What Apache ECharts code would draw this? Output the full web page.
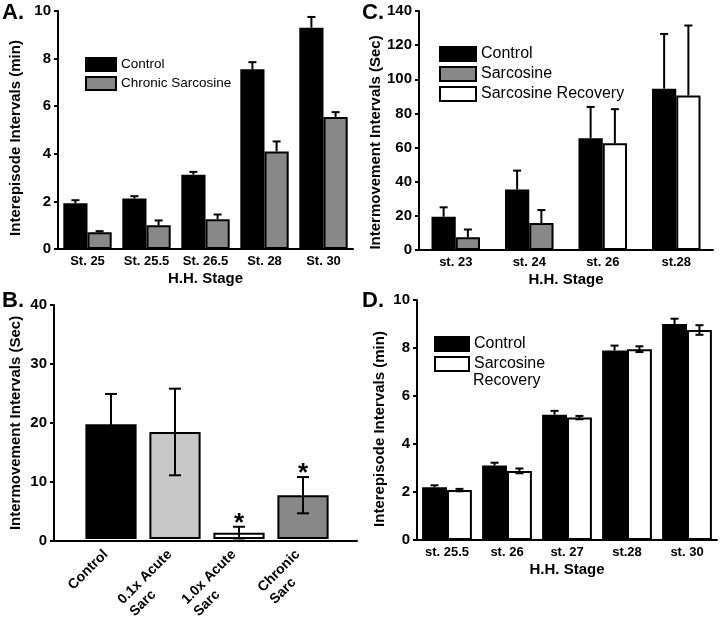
<!DOCTYPE html>
<html><head><meta charset="utf-8">
<script src="https://cdn.jsdelivr.net/npm/echarts@6/dist/echarts.min.js"></script>
<style>html,body{margin:0;padding:0;background:#fff}#c{width:720px;height:621px}</style>
</head><body><div id="c"></div>
<script>
// ---- Panel A ----
const aStages = ['St. 25', 'St. 25.5', 'St. 26.5', 'St. 28', 'St. 30'];
const aControl = [1.92, 2.12, 3.12, 7.55, 9.3];
const aControlErr = [0.13, 0.1, 0.12, 0.3, 0.45];
const aSarc = [0.7, 1.0, 1.25, 4.1, 5.55];
const aSarcErr = [0.05, 0.2, 0.2, 0.42, 0.2];

// ---- Panel B ----
const bGroups = ['Control', '0.1x Acute\nSarc', '1.0x Acute\nSarc', 'Chronic\nSarc'];
const bValues = [19.6, 18.3, 1.1, 7.5];
const bErr = [5.2, 7.4, 1.0, 3.1];
const bSig = ['', '', '*', '*'];

// ---- Panel C ----
const cStages = ['st. 23', 'st. 24', 'st. 26', 'st.28'];
const cControl = [19.5, 35.5, 65.5, 94.5];
const cControlErr = [5.5, 11, 18.3, 32];
const cSarc = [7.5, 15.8, null, null];
const cSarcErr = [4.5, 7.6, null, null];
const cRecovery = [null, null, 62.5, 90.5];
const cRecoveryErr = [null, null, 20, 41];

// ---- Panel D ----
const dStages = ['st. 25.5', 'st. 26', 'st. 27', 'st.28', 'st. 30'];
const dControl = [2.2, 3.1, 5.22, 7.9, 9.0];
const dControlErr = [0.08, 0.12, 0.16, 0.2, 0.22];
const dRecovery = [2.08, 2.88, 5.1, 7.95, 8.75];
const dRecoveryErr = [0.05, 0.1, 0.07, 0.12, 0.2];

const FONT = "'Liberation Sans', Arial, Helvetica, sans-serif";
const BLACK = '#000';
const GRAY = '#888888';

function rows(vals, errs) {
  const out = [];
  vals.forEach((v, i) => { if (v != null) out.push([i, v, errs[i]]); });
  return out;
}
function dash(vals) { return vals.map(v => v == null ? '-' : v); }

function errRender(offsetFrac, both, capHalf, sig) {
  return function (params, api) {
    const i = api.value(0), v = api.value(1), e = api.value(2);
    const band = api.size([1, 0])[0];
    const x = api.coord([i, v])[0] + band * offsetFrac;
    const yTop = api.coord([i, v + e])[1];
    const yBot = api.coord([i, both ? v - e : v])[1];
    const st = { stroke: BLACK, lineWidth: 2 };
    const ch = [
      { type: 'line', shape: { x1: x, y1: yTop, x2: x, y2: yBot }, style: st },
      { type: 'line', shape: { x1: x - capHalf, y1: yTop, x2: x + capHalf, y2: yTop }, style: st }
    ];
    if (both) ch.push({ type: 'line', shape: { x1: x - capHalf, y1: yBot, x2: x + capHalf, y2: yBot }, style: st });
    if (sig && sig[i]) {
      ch.push({ type: 'text', x: x, y: yTop - 3, style: { text: sig[i], fill: BLACK, font: 'bold 26px ' + FONT, align: 'center', verticalAlign: 'middle' } });
    }
    return { type: 'group', children: ch };
  };
}

function valueY(gi, max, interval, name, gap, pad) {
  return {
    type: 'value', gridIndex: gi, min: 0, max: max, interval: interval,
    name: name, nameLocation: 'middle', nameGap: gap,
    nameTextStyle: { fontFamily: FONT, fontWeight: 'bold', fontSize: 15, color: BLACK, padding: pad },
    axisLine: { show: true, lineStyle: { color: BLACK, width: 2 } },
    axisTick: { show: true, length: 4, lineStyle: { color: BLACK, width: 2 } },
    axisLabel: { fontFamily: FONT, fontWeight: 'bold', fontSize: 15, color: BLACK, margin: 7 },
    splitLine: { show: false }
  };
}
function catX(gi, data) {
  return {
    type: 'category', gridIndex: gi, data: data,
    name: 'H.H. Stage', nameLocation: 'middle', nameGap: 22,
    nameTextStyle: { fontFamily: FONT, fontWeight: 'bold', fontSize: 15, color: BLACK },
    axisLine: { lineStyle: { color: BLACK, width: 2 } },
    axisTick: { show: false },
    axisLabel: { fontFamily: FONT, fontWeight: 'bold', fontSize: 13, color: BLACK, margin: 6, interval: 0 }
  };
}
const barStyle = c => ({ color: c, borderColor: BLACK, borderWidth: 2 });

const legendBase = {
  orient: 'vertical', icon: 'rect', selectedMode: false, padding: 0,
  itemStyle: { borderColor: BLACK, borderWidth: 2 },
  textStyle: { fontFamily: FONT, fontSize: 16, color: BLACK }
};

const labelText = (t, x, y) => ({ type: 'text', left: x, top: y, style: { text: t, font: 'bold 22px ' + FONT, fill: BLACK } });

const option = {
  animation: false,
  backgroundColor: '#fff',
  grid: [
    { left: 58, top: 11, width: 295, height: 238 },
    { left: 54, top: 305, width: 303, height: 236 },
    { left: 79, top: 305, width: 256, height: 236 },
    { left: 419, top: 11, width: 294, height: 239 },
    { left: 417, top: 300, width: 300, height: 240 }
  ],
  xAxis: [
    catX(0, aStages),
    { type: 'value', gridIndex: 1, min: 0, max: 1, axisLine: { show: true, onZero: false, lineStyle: { color: BLACK, width: 2 } }, axisTick: { show: false }, axisLabel: { show: false }, splitLine: { show: false } },
    { type: 'category', gridIndex: 2, data: bGroups, axisLine: { show: false }, axisTick: { show: false },
      axisLabel: { interval: 0, rotate: 45, margin: -4, align: 'right', verticalAlign: 'top',
        padding: [0, 16, 0, 0],
        formatter: v => v.split('\n').map(s => '{a|' + s + '}').join('\n'),
        rich: { a: { align: 'left', fontFamily: FONT, fontWeight: 'bold', fontSize: 14, color: BLACK, lineHeight: 17 } } } },
    catX(3, cStages),
    catX(4, dStages)
  ],
  yAxis: [
    valueY(0, 10, 2, 'Interepisode Intervals (min)', 35, [0, 16, 0, 0]),
    valueY(1, 40, 10, 'Intermovement Intervals (Sec)', 31, [0, 0, 0, 0]),
    { type: 'value', gridIndex: 2, min: 0, max: 40, show: false },
    valueY(3, 140, 20, 'Intermovement Intervals (Sec)', 36, [0, 24, 0, 0]),
    valueY(4, 10, 2, 'Interepisode Intervals (min)', 30, [0, 18, 0, 0])
  ],
  legend: [
    Object.assign({}, legendBase, { data: ['Control', 'Chronic Sarcosine'], left: 85, top: 57, itemWidth: 30, itemHeight: 13, itemGap: 4, textStyle: { fontFamily: FONT, fontSize: 13.5, color: BLACK } }),
    Object.assign({}, legendBase, { data: ['Control', 'Sarcosine', 'Sarcosine Recovery'], left: 439, top: 46, itemWidth: 36, itemHeight: 14, itemGap: 4 }),
    Object.assign({}, legendBase, { data: ['Control', 'Sarcosine Recovery'], left: 434, top: 336, itemWidth: 34, itemHeight: 14, itemGap: 4,
      formatter: n => n === 'Sarcosine Recovery' ? 'Sarcosine' : n })
  ],
  graphic: [
    labelText('A.', 2, 2),
    labelText('B.', 2, 290),
    labelText('C.', 362, 2),
    labelText('D.', 362, 290),
    { type: 'text', left: 473, top: 373, style: { text: 'Recovery', font: '16px ' + FONT, fill: BLACK } }
  ],
  series: [
    // A
    { name: 'Control', type: 'bar', xAxisIndex: 0, yAxisIndex: 0, data: aControl, barGap: 0, barCategoryGap: '18%', itemStyle: barStyle(BLACK) },
    { name: 'Chronic Sarcosine', type: 'bar', xAxisIndex: 0, yAxisIndex: 0, data: aSarc, itemStyle: barStyle(GRAY) },
    { name: 'errA1', type: 'custom', xAxisIndex: 0, yAxisIndex: 0, data: rows(aControl, aControlErr), renderItem: errRender(-0.205, false, 4), z: 5 },
    { name: 'errA2', type: 'custom', xAxisIndex: 0, yAxisIndex: 0, data: rows(aSarc, aSarcErr), renderItem: errRender(0.205, false, 4), z: 5 },
    // B
    { name: 'B', type: 'bar', xAxisIndex: 2, yAxisIndex: 2, barCategoryGap: '20%',
      data: bValues.map((v, i) => ({ value: v, itemStyle: barStyle(['#000', '#c8c8c8', '#fff', '#888'][i]) })) },
    { name: 'errB', type: 'custom', xAxisIndex: 2, yAxisIndex: 2, data: rows(bValues, bErr), renderItem: errRender(0, true, 6, bSig), z: 5, clip: false },
    // C
    { name: 'Control', type: 'bar', xAxisIndex: 3, yAxisIndex: 3, data: cControl, barGap: 0, barCategoryGap: '34%', itemStyle: barStyle(BLACK) },
    { name: 'Sarcosine', type: 'bar', xAxisIndex: 3, yAxisIndex: 3, stack: 'alt', data: dash(cSarc), itemStyle: barStyle(GRAY) },
    { name: 'Sarcosine Recovery', type: 'bar', xAxisIndex: 3, yAxisIndex: 3, stack: 'alt', data: dash(cRecovery), itemStyle: barStyle('#fff') },
    { name: 'errC1', type: 'custom', xAxisIndex: 3, yAxisIndex: 3, data: rows(cControl, cControlErr), renderItem: errRender(-0.165, false, 4), z: 5 },
    { name: 'errC2', type: 'custom', xAxisIndex: 3, yAxisIndex: 3, data: rows(cSarc, cSarcErr), renderItem: errRender(0.165, false, 4), z: 5 },
    { name: 'errC3', type: 'custom', xAxisIndex: 3, yAxisIndex: 3, data: rows(cRecovery, cRecoveryErr), renderItem: errRender(0.165, false, 4), z: 5 },
    // D
    { name: 'Control', type: 'bar', xAxisIndex: 4, yAxisIndex: 4, data: dControl, barGap: 0, barCategoryGap: '17%', itemStyle: barStyle(BLACK) },
    { name: 'Sarcosine Recovery', type: 'bar', xAxisIndex: 4, yAxisIndex: 4, data: dRecovery, itemStyle: barStyle('#fff') },
    { name: 'errD1', type: 'custom', xAxisIndex: 4, yAxisIndex: 4, data: rows(dControl, dControlErr), renderItem: errRender(-0.2075, false, 4), z: 5 },
    { name: 'errD2', type: 'custom', xAxisIndex: 4, yAxisIndex: 4, data: rows(dRecovery, dRecoveryErr), renderItem: errRender(0.2075, true, 4), z: 5 }
  ]
};

const chart = echarts.init(document.getElementById('c'), null, { renderer: 'canvas' });
chart.setOption(option);
</script>
</body></html>
